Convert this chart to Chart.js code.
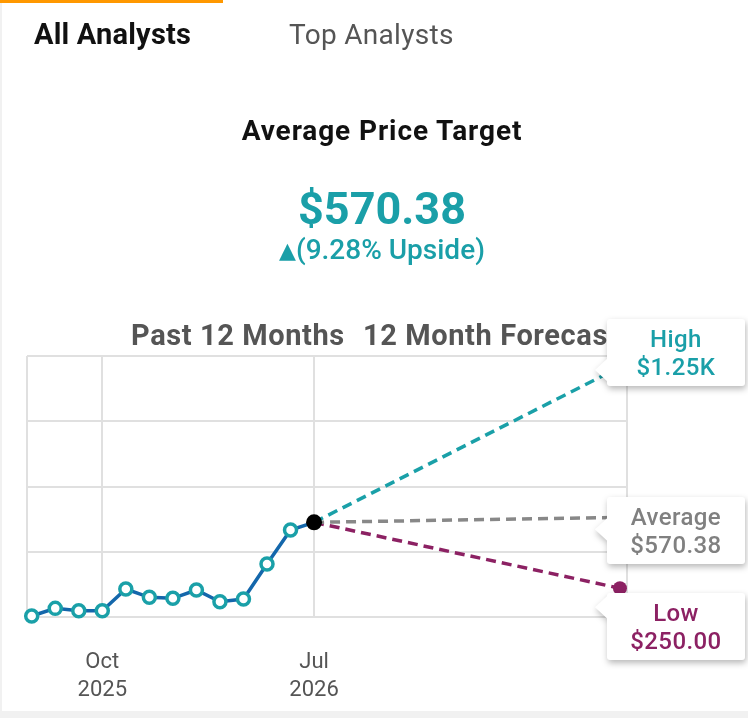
<!DOCTYPE html>
<html>
<head>
<meta charset="utf-8">
<script src="https://cdn.jsdelivr.net/npm/chart.js@4.4.1/dist/chart.umd.min.js"></script>
<style>
html,body{margin:0;padding:0;}
body{width:748px;height:718px;background:#f1f1f1;position:relative;overflow:hidden;font-family:Roboto,"Noto Sans",sans-serif;}
#card{position:absolute;left:2px;top:0;width:746px;height:711px;background:#fff;}
#tabbar{position:absolute;left:0;top:0;width:223px;height:3px;background:#ff9800;z-index:3;}
.t{position:absolute;white-space:nowrap;line-height:1;z-index:2;}
.c{text-align:center;left:82px;width:600px;}
#cv{position:absolute;left:0;top:0;z-index:1;}
.callout{position:absolute;width:150px;height:67px;filter:drop-shadow(1px 3px 3px rgba(0,0,0,0.28));z-index:5;}
.callout .box{position:absolute;left:12px;top:0;width:138px;height:67px;background:#fff;border-radius:3px;
  display:flex;flex-direction:column;justify-content:center;align-items:center;
  font-size:24px;font-weight:500;line-height:28px;letter-spacing:0.4px;box-sizing:border-box;}
.callout .ptr{position:absolute;left:0;width:13px;height:24px;background:#fff;clip-path:polygon(100% 0,0 50%,100% 100%);}
.tri{font-family:"DejaVu Sans",sans-serif;font-size:22px;position:relative;top:-1px;}
</style>
</head>
<body>
<div id="card"></div>
<div id="tabbar"></div>
<div class="t" style="left:34px;top:20px;font-size:29px;font-weight:700;color:#111;letter-spacing:0.2px;">All Analysts</div>
<div class="t" style="left:289px;top:21px;font-size:28px;font-weight:400;color:#555;letter-spacing:0.3px;">Top Analysts</div>
<div class="t c" style="top:117px;font-size:28px;font-weight:700;color:#111;letter-spacing:0.9px;">Average Price Target</div>
<div class="t c" style="top:186px;font-size:45px;font-weight:700;color:#1a9fa8;" id="avgBig"></div>
<div class="t c" style="top:236px;font-size:28px;font-weight:500;color:#1a9fa8;"><span class="tri">▲</span><span id="upside"></span></div>
<div class="t" style="left:131px;top:321px;font-size:29px;font-weight:700;color:#555;letter-spacing:0.6px;">Past 12 Months</div>
<div class="t" style="left:363px;top:321px;font-size:29px;font-weight:700;color:#555;letter-spacing:0.6px;">12 Month Forecast</div>
<canvas id="cv" width="748" height="718"></canvas>

<div class="callout" id="co-high"><div class="ptr"></div><div class="box" style="color:#1a9fa8;"><div>High</div><div class="v"></div></div></div>
<div class="callout" id="co-avg"><div class="ptr"></div><div class="box" style="color:#808080;"><div>Average</div><div class="v"></div></div></div>
<div class="callout" id="co-low"><div class="ptr"></div><div class="box" style="color:#8c2163;"><div>Low</div><div class="v"></div></div></div>

<script>
// ---- data ----
const pastMonths = ['Jul 2025','Aug 2025','Sep 2025','Oct 2025','Nov 2025','Dec 2025','Jan 2026','Feb 2026','Mar 2026','Apr 2026','May 2026','Jun 2026','Jul 2026'];
const pastPrices = [124.5, 159, 148.5, 148.5, 246.6, 209, 204.5, 242, 189, 201, 359.6, 513.3, 548];
const forecastIndex = 25;
const targetHigh = 1250;
const targetAverage = 570.38;
const targetLow = 250;
const upsidePct = 9.28;
const tickIndexes = [3, 12];
const tickLabels = [['Oct', '2025'], ['Jul', '2026']];
const highLabel = '$1.25K';
const averageLabel = '$570.38';
const lowLabel = '$250.00';

// ---- styles ----
const TEAL = '#1aa0a8', BLUE = '#1467ab', GRAY = '#888888', PURPLE = '#8c2163';
const X_MIN = -0.2, X_MAX = 25.3, Y_MIN = 120, Y_MAX = 1300, Y_STEP = 295;

document.getElementById('avgBig').textContent = averageLabel;
document.getElementById('upside').textContent = '(' + upsidePct.toFixed(2) + '% Upside)';
document.querySelector('#co-high .v').textContent = highLabel;
document.querySelector('#co-avg .v').textContent = averageLabel;
document.querySelector('#co-low .v').textContent = lowLabel;

const last = pastPrices.length - 1;
const lastPrice = pastPrices[last];
const pastData = pastPrices.map((v, i) => ({x: i, y: v}));
const fc = (target) => [{x: last, y: lastPrice}, {x: forecastIndex, y: target}];

const calloutPlugin = {
  id: 'callouts',
  afterRender(chart) {
    const xs = chart.scales.x, ys = chart.scales.y;
    const px = xs.getPixelForValue(forecastIndex);
    const place = (id, val, boxOff, tipOff) => {
      const py = ys.getPixelForValue(val);
      const el = document.getElementById(id);
      const top = py + boxOff;
      el.style.left = (px - 25) + 'px';
      el.style.top = top + 'px';
      el.querySelector('.ptr').style.top = (py + tipOff - top - 12) + 'px';
    };
    place('co-high', targetHigh, -48, 3);
    place('co-avg', targetAverage, -20, 12);
    place('co-low', targetLow, 5, 19);
  }
};

new Chart(document.getElementById('cv'), {
  type: 'line',
  data: {
    datasets: [
      {
        label: 'Past',
        data: pastData,
        borderColor: BLUE,
        borderWidth: 3.5,
        tension: 0,
        clip: false,
        pointRadius: pastData.map((d, i) => i === last ? 8 : 6),
        pointBorderWidth: pastData.map((d, i) => i === last ? 0 : 3.5),
        pointBackgroundColor: pastData.map((d, i) => i === last ? '#000' : '#fff'),
        pointBorderColor: pastData.map((d, i) => i === last ? '#000' : TEAL)
      },
      {
        label: 'High', data: fc(targetHigh), borderColor: TEAL, borderWidth: 3.5,
        borderDash: [10, 6], pointRadius: 0, clip: false
      },
      {
        label: 'Average', data: fc(targetAverage), borderColor: GRAY, borderWidth: 3.5,
        borderDash: [10, 6], pointRadius: 0, clip: false
      },
      {
        label: 'Low', data: fc(targetLow), borderColor: PURPLE, borderWidth: 3.5,
        borderDash: [10, 6], pointRadius: [0, 7], pointBorderWidth: 0,
        pointBackgroundColor: PURPLE, clip: false
      }
    ]
  },
  options: {
    responsive: false,
    animation: false,
    devicePixelRatio: 1,
    layout: {padding: {left: 27, right: 121, top: 356, bottom: 0}},
    plugins: {legend: {display: false}, tooltip: {enabled: false}},
    scales: {
      x: {
        type: 'linear',
        min: X_MIN, max: X_MAX,
        afterBuildTicks(scale) {
          scale.ticks = [{value: X_MIN}].concat(tickIndexes.map(v => ({value: v}))).concat([{value: X_MAX}]);
        },
        afterFit(scale) {
          scale.height = 101;
          scale.paddingLeft = 0;
          scale.paddingRight = 0;
        },
        ticks: {
          padding: 32,
          color: '#555',
          font: {family: 'Roboto', size: 22, lineHeight: 1.25},
          maxRotation: 0,
          autoSkip: false,
          callback(value) {
            const k = tickIndexes.indexOf(value);
            return k >= 0 ? tickLabels[k] : '';
          }
        },
        grid: {color: '#e0e0e0', lineWidth: 2, drawTicks: false},
        border: {display: false}
      },
      y: {
        type: 'linear',
        min: Y_MIN, max: Y_MAX,
        ticks: {display: false, stepSize: Y_STEP},
        afterFit(scale) { scale.width = 0; },
        grid: {color: '#e0e0e0', lineWidth: 2, drawTicks: false},
        border: {display: false}
      }
    }
  },
  plugins: [calloutPlugin]
});
</script>
</body>
</html>
